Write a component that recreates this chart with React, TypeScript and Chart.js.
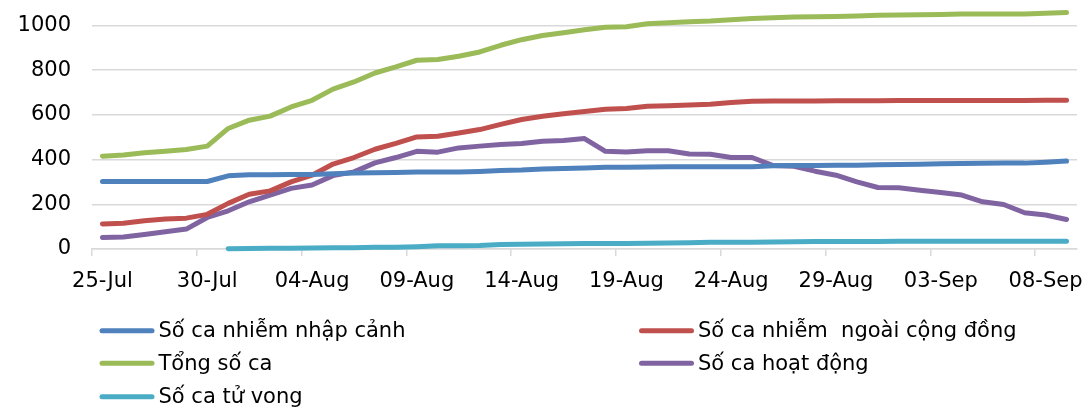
import React, { useEffect, useRef } from "react";
import { Chart, registerables } from "chart.js";

Chart.register(...registerables);

const categories = [
  "25-Jul", "26-Jul", "27-Jul", "28-Jul", "29-Jul", "30-Jul", "31-Jul",
  "01-Aug", "02-Aug", "03-Aug", "04-Aug", "05-Aug", "06-Aug", "07-Aug", "08-Aug",
  "09-Aug", "10-Aug", "11-Aug", "12-Aug", "13-Aug", "14-Aug", "15-Aug", "16-Aug",
  "17-Aug", "18-Aug", "19-Aug", "20-Aug", "21-Aug", "22-Aug", "23-Aug", "24-Aug",
  "25-Aug", "26-Aug", "27-Aug", "28-Aug", "29-Aug", "30-Aug", "31-Aug",
  "01-Sep", "02-Sep", "03-Sep", "04-Sep", "05-Sep", "06-Sep", "07-Sep", "08-Sep", "09-Sep",
];

const seriesNames = [
  "Số ca nhiễm nhập cảnh",
  "Số ca nhiễm  ngoài cộng đồng",
  "Tổng số ca",
  "Số ca hoạt động",
  "Số ca tử vong",
];

const seriesColors = ["#4F81BD", "#C0504D", "#9BBB59", "#8064A2", "#4BACC6"];

const imported = [
  302, 302, 302, 302, 302, 302, 327, 332, 332, 333, 333, 336, 340, 341, 342, 344,
  344, 344, 347, 351, 353, 358, 360, 362, 365, 365, 367, 368, 368, 368, 368, 368,
  372, 373, 373, 375, 375, 377, 378, 379, 381, 382, 383, 384, 384, 388, 393,
];

const community = [
  112, 115, 126, 134, 138, 155, 204, 245, 260, 300, 330, 380, 409, 446, 472, 501,
  504, 519, 534, 557, 579, 594, 605, 615, 625, 628, 638, 641, 644, 647, 655, 661,
  662, 662, 662, 663, 663, 663, 664, 664, 664, 664, 664, 664, 664, 665, 665,
];

const total = [
  415, 420, 430, 437, 445, 460, 539, 576, 594, 635, 665, 715, 747, 787, 814, 844,
  847, 862, 881, 911, 936, 955, 967, 980, 992, 994, 1007, 1012, 1016, 1019, 1025, 1031,
  1034, 1037, 1039, 1040, 1042, 1045, 1046, 1048, 1049, 1051, 1051, 1051, 1051, 1054, 1058,
];

const active = [
  51, 54, 65, 77, 89, 141, 171, 211, 241, 271, 286, 328, 345, 385, 409, 437,
  433, 452, 460, 467, 472, 482, 485, 494, 437, 434, 439, 439, 425, 424, 409, 409,
  373, 370, 348, 330, 300, 275, 274, 263, 253, 241, 211, 199, 162, 152, 132,
];

const deaths = [
  null, null, null, null, null, null, 1, 2, 3, 3, 5, 6, 6, 8, 8, 10,
  14, 15, 16, 20, 21, 22, 23, 25, 25, 25, 26, 27, 28, 30, 30, 30,
  31, 32, 33, 33, 34, 34, 35, 35, 35, 35, 35, 35, 35, 35, 35,
];

const yTickValues = [0, 200, 400, 600, 800, 1000];
const yAxisMax = 1100;
const xLabelEvery = 5;

const FONT = "'DejaVu Sans', sans-serif";

const legendPlugin = {
  id: "columnLegend",
  afterDraw(chart: any) {
    const ctx = chart.ctx;
    const colX = [102, 641.5];
    const rowY = [330.7, 363.3, 396.7];
    ctx.save();
    ctx.font = `21px ${FONT}`;
    ctx.textBaseline = "middle";
    ctx.textAlign = "left";
    chart.data.datasets.forEach((ds: any, i: number) => {
      const col = i % 2;
      const row = Math.floor(i / 2);
      const x = colX[col];
      const y = rowY[row];
      ctx.strokeStyle = ds.borderColor;
      ctx.lineWidth = 5;
      ctx.lineCap = "round";
      ctx.beginPath();
      ctx.moveTo(x, y);
      ctx.lineTo(x + 50, y);
      ctx.stroke();
      ctx.fillStyle = "#000";
      ctx.fillText(ds.label, x + 56.5, y + 1);
    });
    ctx.restore();
  },
};

export default function App() {
  const canvasRef = useRef<HTMLCanvasElement | null>(null);

  useEffect(() => {
    const canvas = canvasRef.current;
    if (!canvas) return;
    const seriesData = [imported, community, total, active, deaths];
    const chart = new Chart(canvas, {
      type: "line",
      data: {
        labels: categories,
        datasets: seriesData.map((d, i) => ({
          label: seriesNames[i],
          data: d,
          borderColor: seriesColors[i],
          backgroundColor: seriesColors[i],
          borderWidth: 5,
          pointRadius: 0,
          pointHoverRadius: 0,
          tension: 0,
          borderCapStyle: "round",
          borderJoinStyle: "round",
          fill: false,
          clip: false,
        })) as any,
      },
      options: {
        animation: false,
        responsive: true,
        maintainAspectRatio: false,
        layout: { padding: { left: 0, right: 10, top: 3, bottom: 110 } },
        plugins: {
          legend: { display: false },
          tooltip: { enabled: false },
        },
        scales: {
          x: {
            type: "category",
            offset: true,
            grid: {
              offset: true,
              drawOnChartArea: false,
              drawTicks: true,
              tickLength: 7,
              lineWidth: 1.5,
              color: (c: any) =>
                typeof c.index === "number" && c.index % xLabelEvery === 0 ? "#D9D9D9" : "rgba(0,0,0,0)",
            },
            border: { display: true, color: "#D9D9D9", width: 1.5 },
            ticks: {
              autoSkip: false,
              maxRotation: 0,
              minRotation: 0,
              padding: 13,
              color: "#000",
              font: { family: FONT, size: 21 },
              callback: (_v: any, idx: number) => (idx % xLabelEvery === 0 ? categories[idx] : ""),
            },
            afterFit: (scale: any) => {
              scale.height = 50;
            },
          },
          y: {
            min: 0,
            max: yAxisMax,
            grid: {
              drawTicks: false,
              color: "#D9D9D9",
              lineWidth: 1.5,
            },
            border: { display: false },
            ticks: {
              padding: 21,
              color: "#000",
              font: { family: FONT, size: 21 },
              callback: (v: any) => String(v),
            },
            afterBuildTicks: (scale: any) => {
              scale.ticks = yTickValues.map((v) => ({ value: v }));
            },
            afterFit: (scale: any) => {
              scale.width = 92;
              scale.paddingTop = 0;
              scale.paddingBottom = 0;
            },
          },
        },
      },
      plugins: [legendPlugin],
    });
    return () => chart.destroy();
  }, []);

  return (
    <div style={{ position: "absolute", left: 0, top: 0, width: 1087, height: 409, background: "#fff" }}>
      <canvas ref={canvasRef} />
    </div>
  );
}
